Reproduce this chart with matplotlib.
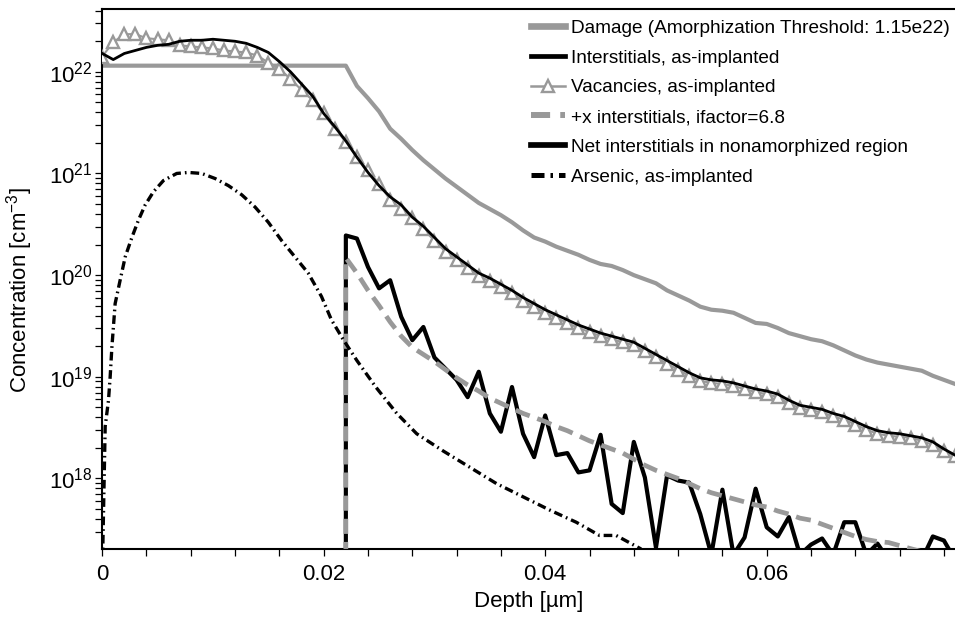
import numpy as np
import matplotlib
matplotlib.use("Agg")
import matplotlib.pyplot as plt
from matplotlib.ticker import LogLocator, NullFormatter, FuncFormatter, MultipleLocator

plt.rcParams["font.family"] = "Liberation Sans"
plt.rcParams["mathtext.fontset"] = "custom"
plt.rcParams["mathtext.rm"] = "Liberation Sans"
plt.rcParams["mathtext.default"] = "regular"

# depth grid (um), 0.001 steps
depth = np.linspace(0, 0.077, 78)

# all concentrations stored as log10(cm^-3)
damage_log = [22.06] * 23 + [
    21.86, 21.74, 21.61, 21.44, 21.34, 21.23, 21.13, 21.04, 20.95, 20.87,
    20.79, 20.71, 20.65, 20.59, 20.52, 20.44, 20.37, 20.33, 20.28, 20.24,
    20.20, 20.15, 20.11, 20.09, 20.05, 20.00, 19.96, 19.92, 19.85, 19.80,
    19.75, 19.69, 19.66, 19.65, 19.63, 19.58, 19.53, 19.52, 19.48, 19.43,
    19.40, 19.37, 19.35, 19.31, 19.26, 19.21, 19.17, 19.14, 19.12, 19.10,
    19.08, 19.06, 19.01, 18.97, 18.93]

inter_log = [
    22.18, 22.12, 22.18, 22.21, 22.24, 22.26, 22.27, 22.30, 22.31, 22.31,
    22.32, 22.31, 22.30, 22.28, 22.24, 22.19, 22.10, 22.00, 21.88, 21.76,
    21.59, 21.46, 21.32, 21.16, 21.01, 20.88, 20.77, 20.69, 20.57, 20.48,
    20.37, 20.26, 20.18, 20.10, 20.02, 19.97, 19.91, 19.85, 19.78, 19.72,
    19.66, 19.61, 19.56, 19.51, 19.47, 19.43, 19.40, 19.37, 19.34, 19.28,
    19.22, 19.16, 19.10, 19.04, 18.99, 18.97, 18.96, 18.94, 18.91, 18.88,
    18.86, 18.83, 18.77, 18.72, 18.70, 18.68, 18.64, 18.61, 18.56, 18.51,
    18.47, 18.45, 18.44, 18.42, 18.40, 18.36, 18.29, 18.23]

vac_log = [
    22.15, 22.29, 22.37, 22.37, 22.33, 22.32, 22.31, 22.26, 22.25, 22.24,
    22.23, 22.21, 22.20, 22.19, 22.16, 22.09, 22.03, 21.93, 21.82, 21.72,
    21.59, 21.44, 21.31, 21.16, 21.03, 20.90, 20.74, 20.65, 20.56, 20.45,
    20.34, 20.23, 20.15, 20.07, 19.99, 19.94, 19.88, 19.82, 19.75, 19.69,
    19.63, 19.58, 19.53, 19.48, 19.44, 19.40, 19.37, 19.34, 19.31, 19.25,
    19.19, 19.13, 19.07, 19.01, 18.96, 18.94, 18.93, 18.91, 18.88, 18.85,
    18.83, 18.80, 18.74, 18.69, 18.67, 18.65, 18.61, 18.58, 18.53, 18.48,
    18.44, 18.42, 18.41, 18.40, 18.37, 18.33, 18.27, 18.22]

# +x and net interstitials start at 0.022 um (first entry = drop to the floor)
plusx_depth = np.r_[depth[22], depth[22:]]
plusx_log = [17.0,
    20.17, 20.02, 19.85, 19.70, 19.54, 19.40, 19.29, 19.22, 19.15, 19.07,
    18.99, 18.92, 18.86, 18.79, 18.74, 18.69, 18.64, 18.60, 18.56,
    18.51, 18.47, 18.42, 18.37, 18.33, 18.29, 18.25, 18.19, 18.13, 18.08,
    18.04, 18.00, 17.95, 17.90, 17.86, 17.83, 17.80, 17.77, 17.74, 17.72,
    17.68, 17.65, 17.61, 17.59, 17.55, 17.51, 17.47, 17.43, 17.40, 17.38,
    17.37, 17.34, 17.31, 17.28, 17.20, 17.15, 17.10]

net_depth = np.r_[depth[22], depth[22:]]
net_log = [17.0,
    20.39, 20.36, 20.08, 19.87, 19.95, 19.59, 19.36, 19.49, 19.19, 19.08,
    18.97, 18.80, 19.05, 18.64, 18.46, 18.90, 18.44, 18.21, 18.62, 18.23,
    18.25, 18.06, 18.08, 18.43, 17.75, 17.66, 18.36, 18.01, 17.32, 18.03,
    17.98, 17.96, 17.65, 17.25, 17.89, 17.25, 17.42, 17.90, 17.52, 17.43,
    17.62, 17.25, 17.35, 17.41, 17.25, 17.57, 17.57, 17.25, 17.36, 17.20,
    17.20, 17.20, 17.20, 17.43, 17.39, 17.20]

arsenic_depth = [0, 0.00027, 0.00057, 0.00072, 0.000875, 0.00117, 0.00162,
                 0.00208, 0.00268, 0.00327, 0.00388, 0.00463, 0.00553,
                 0.00673, 0.00778, 0.00899, 0.0102, 0.0114, 0.0126, 0.0138,
                 0.0150, 0.0162, 0.0174, 0.0186, 0.0198, 0.0207, 0.0218,
                 0.0230, 0.0247, 0.0266, 0.0284, 0.0308, 0.0332, 0.0356,
                 0.0380, 0.0404, 0.0428, 0.0449, 0.0464, 0.0486, 0.0500]
arsenic_log = [17.0, 18.51, 18.77, 19.00, 19.29, 19.72, 19.95, 20.18, 20.37,
               20.54, 20.69, 20.82, 20.93, 21.00, 21.01, 21.00, 20.95, 20.88,
               20.79, 20.67, 20.52, 20.34, 20.18, 20.02, 19.79, 19.56, 19.36,
               19.16, 18.90, 18.64, 18.44, 18.27, 18.11, 17.95, 17.82, 17.69,
               17.57, 17.44, 17.44, 17.31, 17.15]

labels = ["Damage (Amorphization Threshold: 1.15e22)",
          "Interstitials, as-implanted",
          "Vacancies, as-implanted",
          "+x interstitials, ifactor=6.8",
          "Net interstitials in nonamorphized region",
          "Arsenic, as-implanted"]
xticks = [0, 0.02, 0.04, 0.06]
xtick_labels = ["0", "0.02", "0.04", "0.06"]

gray = "#999999"

fig = plt.figure(figsize=(9.55, 6.17), dpi=100)
ax = fig.add_axes([0.107, 0.110, 0.893, 0.875])

l_dmg, = ax.plot(depth, 10 ** np.array(damage_log), color=gray, lw=3.0, zorder=2)
l_vac, = ax.plot(depth, 10 ** np.array(vac_log), color=gray, lw=1.5, marker="^",
                 ms=8.5, mfc="white", mec=gray, mew=1.7, zorder=3)
l_int, = ax.plot(depth, 10 ** np.array(inter_log), color="black", lw=2.0, zorder=4)
l_net, = ax.plot(net_depth, 10 ** np.array(net_log), color="black", lw=3.0, zorder=5)
l_px, = ax.plot(plusx_depth, 10 ** np.array(plusx_log), color=gray, lw=3.4,
                linestyle=(0, (3.2, 1.7)), zorder=6)
l_as, = ax.plot(arsenic_depth, 10 ** np.array(arsenic_log), color="black", lw=2.4,
                linestyle=(0, (2.6, 1.2, 0.5, 1.2)), zorder=7)

ax.set_yscale("log")
ax.set_xlim(0, 0.077)
ax.set_ylim(2.02e17, 4.12e22)

ax.set_xticks(xticks)
ax.set_xticklabels(xtick_labels)
ax.xaxis.set_minor_locator(MultipleLocator(0.004))
ax.yaxis.set_major_locator(LogLocator(base=10, numticks=20))
ax.yaxis.set_minor_locator(LogLocator(base=10, subs=range(2, 10), numticks=20))
ax.yaxis.set_minor_formatter(NullFormatter())
ax.yaxis.set_major_formatter(FuncFormatter(lambda v, p: "$10^{%d}$" % round(np.log10(v))))

ax.tick_params(which="both", direction="out", length=5, width=0.9, labelsize=16,
               top=False, right=False)
ax.tick_params(axis="x", pad=6)
ax.tick_params(axis="y", pad=2)
for s in ["left", "bottom", "top"]:
    ax.spines[s].set_linewidth(1.5)
ax.spines["right"].set_visible(False)

ax.set_xlabel("Depth [µm]", fontsize=16, labelpad=4)
ax.set_ylabel("Concentration [cm$^{-3}$]", fontsize=16)
ax.yaxis.set_label_coords(-0.079, 0.48)

leg = ax.legend([l_dmg, l_int, l_vac, l_px, l_net, l_as], labels,
                loc="upper left", bbox_to_anchor=(0.556, 0.968),
                bbox_transform=fig.transFigure, frameon=False, fontsize=13.7,
                handlelength=1.8, handletextpad=0.32, labelspacing=0.65,
                borderpad=0, borderaxespad=0)
for ln, w in zip(leg.get_lines(), [4.8, 3.4, 1.8, 4.3, 4.1, 3.6]):
    ln.set_linewidth(w)

fig.savefig("out.png", dpi=100)
